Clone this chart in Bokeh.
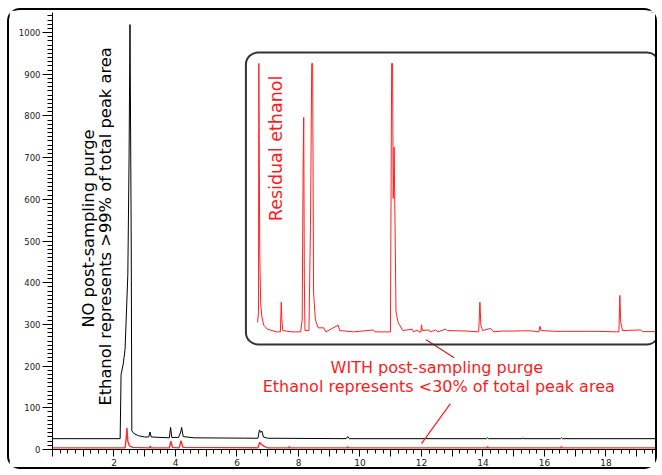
import math
from bokeh.plotting import figure
from bokeh.models import Range1d, FixedTicker, BoxAnnotation, Label
from bokeh.embed import file_html
from bokeh.resources import INLINE

# ---- data ----
# NO post-sampling purge (black trace), retention time (min) vs abundance
black_x = [0.0, 2.20, 2.23, 2.30, 2.36, 2.45, 2.49, 2.52, 2.56, 2.58, 2.65, 2.80, 3.00,
           3.13, 3.17, 3.21, 3.80, 3.84, 3.88, 4.10, 4.17, 4.20, 4.25, 4.60, 6.68, 6.73,
           6.77, 6.81, 6.86, 7.00, 9.55, 9.60, 9.65, 14.12, 14.15, 14.18, 15.28, 15.30,
           15.32, 16.52, 16.55, 16.58, 19.85]
black_y = [26, 26, 180, 205, 240, 420, 700, 1019, 500, 45, 38, 33, 30,
           30, 42, 30, 28, 53, 29, 29, 42, 53, 31, 28, 27, 47,
           41, 44, 30, 27, 26, 31, 26, 26, 28, 26, 26, 28,
           26, 26, 28, 26, 26]

# WITH post-sampling purge (red trace)
red_x = [0.0, 2.36, 2.40, 2.42, 2.45, 2.50, 2.60, 3.15, 3.18, 3.21, 3.80, 3.85, 3.90,
         4.12, 4.18, 4.24, 6.68, 6.74, 6.80, 6.90, 7.00, 7.68, 7.70, 7.72, 9.58, 9.60,
         9.62, 14.13, 14.15, 14.17, 16.53, 16.55, 16.57, 19.85]
red_y = [4, 4, 30, 52, 20, 9, 5, 4, 8, 4, 4, 20, 5,
         4, 21, 5, 4, 17, 12, 7, 4, 4, 7, 4, 4, 7,
         4, 4, 7, 4, 4, 7, 4, 4]

# Inset: red trace, expanded intensity scale (clipped at 100)
inset_x = [2.38, 2.41, 2.42, 2.45, 2.48, 2.52, 2.58, 2.70, 3.00, 3.12, 3.15, 3.17, 3.20,
           3.50, 3.78, 3.83, 3.86, 3.88, 3.90, 3.92, 4.05, 4.10, 4.14, 4.17, 4.20, 4.26,
           4.35, 4.53, 4.60, 5.00, 5.05, 5.50, 6.14, 6.20, 6.70, 6.74, 6.77, 6.79, 6.82,
           6.85, 6.88, 6.95, 7.10, 7.41, 7.45, 7.57, 7.62, 7.69, 7.71, 7.74, 7.95, 8.00,
           8.17, 8.25, 8.49, 8.55, 9.20, 9.57, 9.61, 9.64, 9.70, 9.96, 10.05, 10.33, 10.66,
           10.99, 11.25, 11.53, 11.56, 11.60, 12.07, 12.39, 13.20, 13.42, 14.13, 14.16,
           14.19, 14.25, 14.83, 14.90, 15.43]
inset_y = [4, 8, 100, 30, 11, 6, 3, 1.5, 0.5, 0.5, 11.5, 5, 1,
           0.5, 0.5, 5, 61, 80, 20, 1, 1, 40, 100, 100, 15, 5,
           2, 2, 0.5, 3, 1, 0.5, 1.2, 0.5, 0.5, 100, 100, 50, 69,
           40, 8, 4, 1, 1.5, 0.5, 1.2, 0.5, 0.5, 3.1, 1, 1.2, 0.5,
           1.2, 0.5, 1.5, 1, 0.8, 0.5, 11.5, 3, 1, 1.8, 0.5, 0.8, 0.8,
           0.9, 0.9, 0.5, 2.6, 1, 0.7, 0.7, 0.7, 0.7, 0.5, 14,
           4, 1, 1.2, 0.6, 0.6]

x_major_ticks = list(range(0, 20))
x_minor_ticks = [i * 0.25 for i in range(0, 80)]
y_major_ticks = list(range(0, 1100, 100))
y_minor_ticks = list(range(0, 1050, 10))

FONT = "DejaVu Sans"

p = figure(width=650, height=461, output_backend="svg", toolbar_location=None,
           x_range=Range1d(0, 19.74), y_range=Range1d(0, 1048),
           min_border_left=43, min_border_right=0, min_border_top=2, min_border_bottom=22)
p.styles = {"border": "2px solid #000000", "border-radius": "13px",
            "margin-left": "7px", "margin-top": "8px"}
p.outline_line_color = None
p.grid.visible = False
p.background_fill_color = "white"
p.border_fill_color = "white"

p.extra_x_ranges = {"inset": Range1d(-4.29, 15.45)}
p.extra_y_ranges = {"inset": Range1d(-43.1, 118.9)}

# axes
xa = p.xaxis[0]
xa.ticker = FixedTicker(ticks=x_major_ticks, minor_ticks=x_minor_ticks)
xa.major_label_overrides = {t: (str(t) if (t % 2 == 0 and t > 0) else "") for t in x_major_ticks}
xa.major_tick_out = 7
xa.major_tick_in = 0
xa.minor_tick_out = 4
xa.minor_tick_in = 0
xa.major_label_standoff = 2
xa.major_label_text_font = FONT
xa.major_label_text_font_size = "9px"
xa.major_label_text_color = "#222222"
xa.axis_line_color = "black"

ya = p.yaxis[0]
ya.ticker = FixedTicker(ticks=y_major_ticks, minor_ticks=y_minor_ticks)
ya.major_tick_out = 10
ya.major_tick_in = 0
ya.minor_tick_out = 5
ya.minor_tick_in = 0
ya.major_label_standoff = 2
ya.major_label_text_font = FONT
ya.major_label_text_font_size = "8.5px"
ya.major_label_text_color = "#222222"
ya.axis_line_color = "black"

# traces
p.line(black_x, black_y, line_color="black", line_width=1)
p.line(red_x, red_y, line_color="#ff2a2a", line_width=1.4)
p.line(inset_x, inset_y, line_color="#ff2020", line_width=1,
       x_range_name="inset", y_range_name="inset")

# inset frame
p.add_layout(BoxAnnotation(left=6.29, right=19.72, top=952, bottom=252,
                           fill_alpha=0, line_color="#333333", line_alpha=1.0,
                           line_width=2, border_radius=12))

# pointer lines
p.line([12.15, 13.06], [263, 220], line_color="#d02020", line_width=1.2)
p.line([12.94, 12.0], [110, 14], line_color="#ff1a1a", line_width=1.2)

# texts
def lab(x, y, txt, color, size, angle=0.0):
    p.add_layout(Label(x=x, y=y, text=txt, text_color=color, text_font=FONT,
                       text_font_size=size, angle=angle, text_align="center",
                       text_baseline="middle"))

lab(1.17, 530, "NO post-sampling purge", "black", "16.3px", math.pi / 2)
lab(1.71, 535, "Ethanol represents >99% of total peak area", "black", "16.3px", math.pi / 2)
lab(7.27, 722, "Residual ethanol", "#ff1a1a", "17.5px", math.pi / 2)
lab(12.5, 197, "WITH post-sampling purge", "#ff1a1a", "16px")
lab(12.56, 151, "Ethanol represents <30% of total peak area", "#ff1a1a", "16px")

open("out.html", "w").write(file_html(p, INLINE))
